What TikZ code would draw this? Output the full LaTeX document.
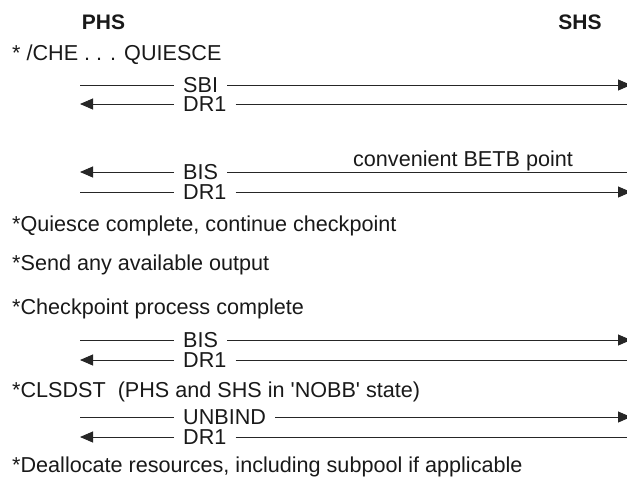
\documentclass[tikz,border=0pt]{standalone}
\usepackage{fontspec}
\setmainfont{Liberation Sans}
\usetikzlibrary{arrows.meta,positioning}

\begin{document}
\begin{tikzpicture}[x=1pt,y=-1pt,
  every node/.style={font=\fontsize{21.6}{26}\selectfont, text=black!90,
                     text height=15.5pt, text depth=0pt, inner sep=0pt},
  head/.style={font=\fontsize{21}{25}\selectfont\bfseries},
  note/.style={anchor=west},
  msg/.style={anchor=west, inner xsep=9pt},
  link/.style={line width=0.9pt, draw=black!85},
  tip/.style={link, -{Triangle[length=13pt,width=11pt]}}]

\useasboundingbox (0,0) rectangle (627,491);

\node[head] (phs) at (103.5,22) {PHS};
\node[head] (shs) at (580,22)   {SHS};

\node[note] (che) at (12,53) {* /CHE . . . QUIESCE};

% SBI / DR1
\coordinate (l1) at (80,85);  \coordinate (r1) at (631,85);
\coordinate (l2) at (80,104); \coordinate (r2) at (631,104);
\node[msg] (sbi)  at (174,85)  {SBI};
\node[msg] (dra)  at (174,104) {DR1};
\draw[link] (l1)--(sbi.west);  \draw[tip] (sbi.east)--(r1);
\draw[tip] (dra.west)--(l2);   \draw[link] (dra.east)--(r2);

% BIS / DR1 at BETB point
\coordinate (l3) at (80,172); \coordinate (r3) at (631,172);
\coordinate (l4) at (80,192); \coordinate (r4) at (631,192);
\node[msg] (bisa) at (174,172) {BIS};
\node[msg] (drb)  at (174,192) {DR1};
\node (betb) at (463,159) {convenient BETB point};
\draw[tip] (bisa.west)--(l3);  \draw[link] (bisa.east)--(r3);
\draw[link] (l4)--(drb.west);  \draw[tip] (drb.east)--(r4);

\node[note] (qui) at (12,224) {*Quiesce complete, continue checkpoint};
\node[note] (snd) at (12,263) {*Send any available output};
\node[note] (chk) at (12,307) {*Checkpoint process complete};

% BIS / DR1
\coordinate (l5) at (80,340); \coordinate (r5) at (631,340);
\coordinate (l6) at (80,360); \coordinate (r6) at (631,360);
\node[msg] (bisb) at (174,340) {BIS};
\node[msg] (drc)  at (174,360) {DR1};
\draw[link] (l5)--(bisb.west); \draw[tip] (bisb.east)--(r5);
\draw[tip] (drc.west)--(l6);   \draw[link] (drc.east)--(r6);

\node[note] (cls) at (12,390) {*CLSDST\ \ (PHS and SHS in \textquotesingle NOBB\textquotesingle\ state)};

% UNBIND / DR1
\coordinate (l7) at (80,417); \coordinate (r7) at (631,417);
\coordinate (l8) at (80,437); \coordinate (r8) at (631,437);
\node[msg] (unb) at (174,417) {UNBIND};
\node[msg] (drd) at (174,437) {DR1};
\draw[link] (l7)--(unb.west);  \draw[tip] (unb.east)--(r7);
\draw[tip] (drd.west)--(l8);   \draw[link] (drd.east)--(r8);

\node[note] (dea) at (12,465) {*Deallocate resources, including subpool if applicable};
\end{tikzpicture}
\end{document}
